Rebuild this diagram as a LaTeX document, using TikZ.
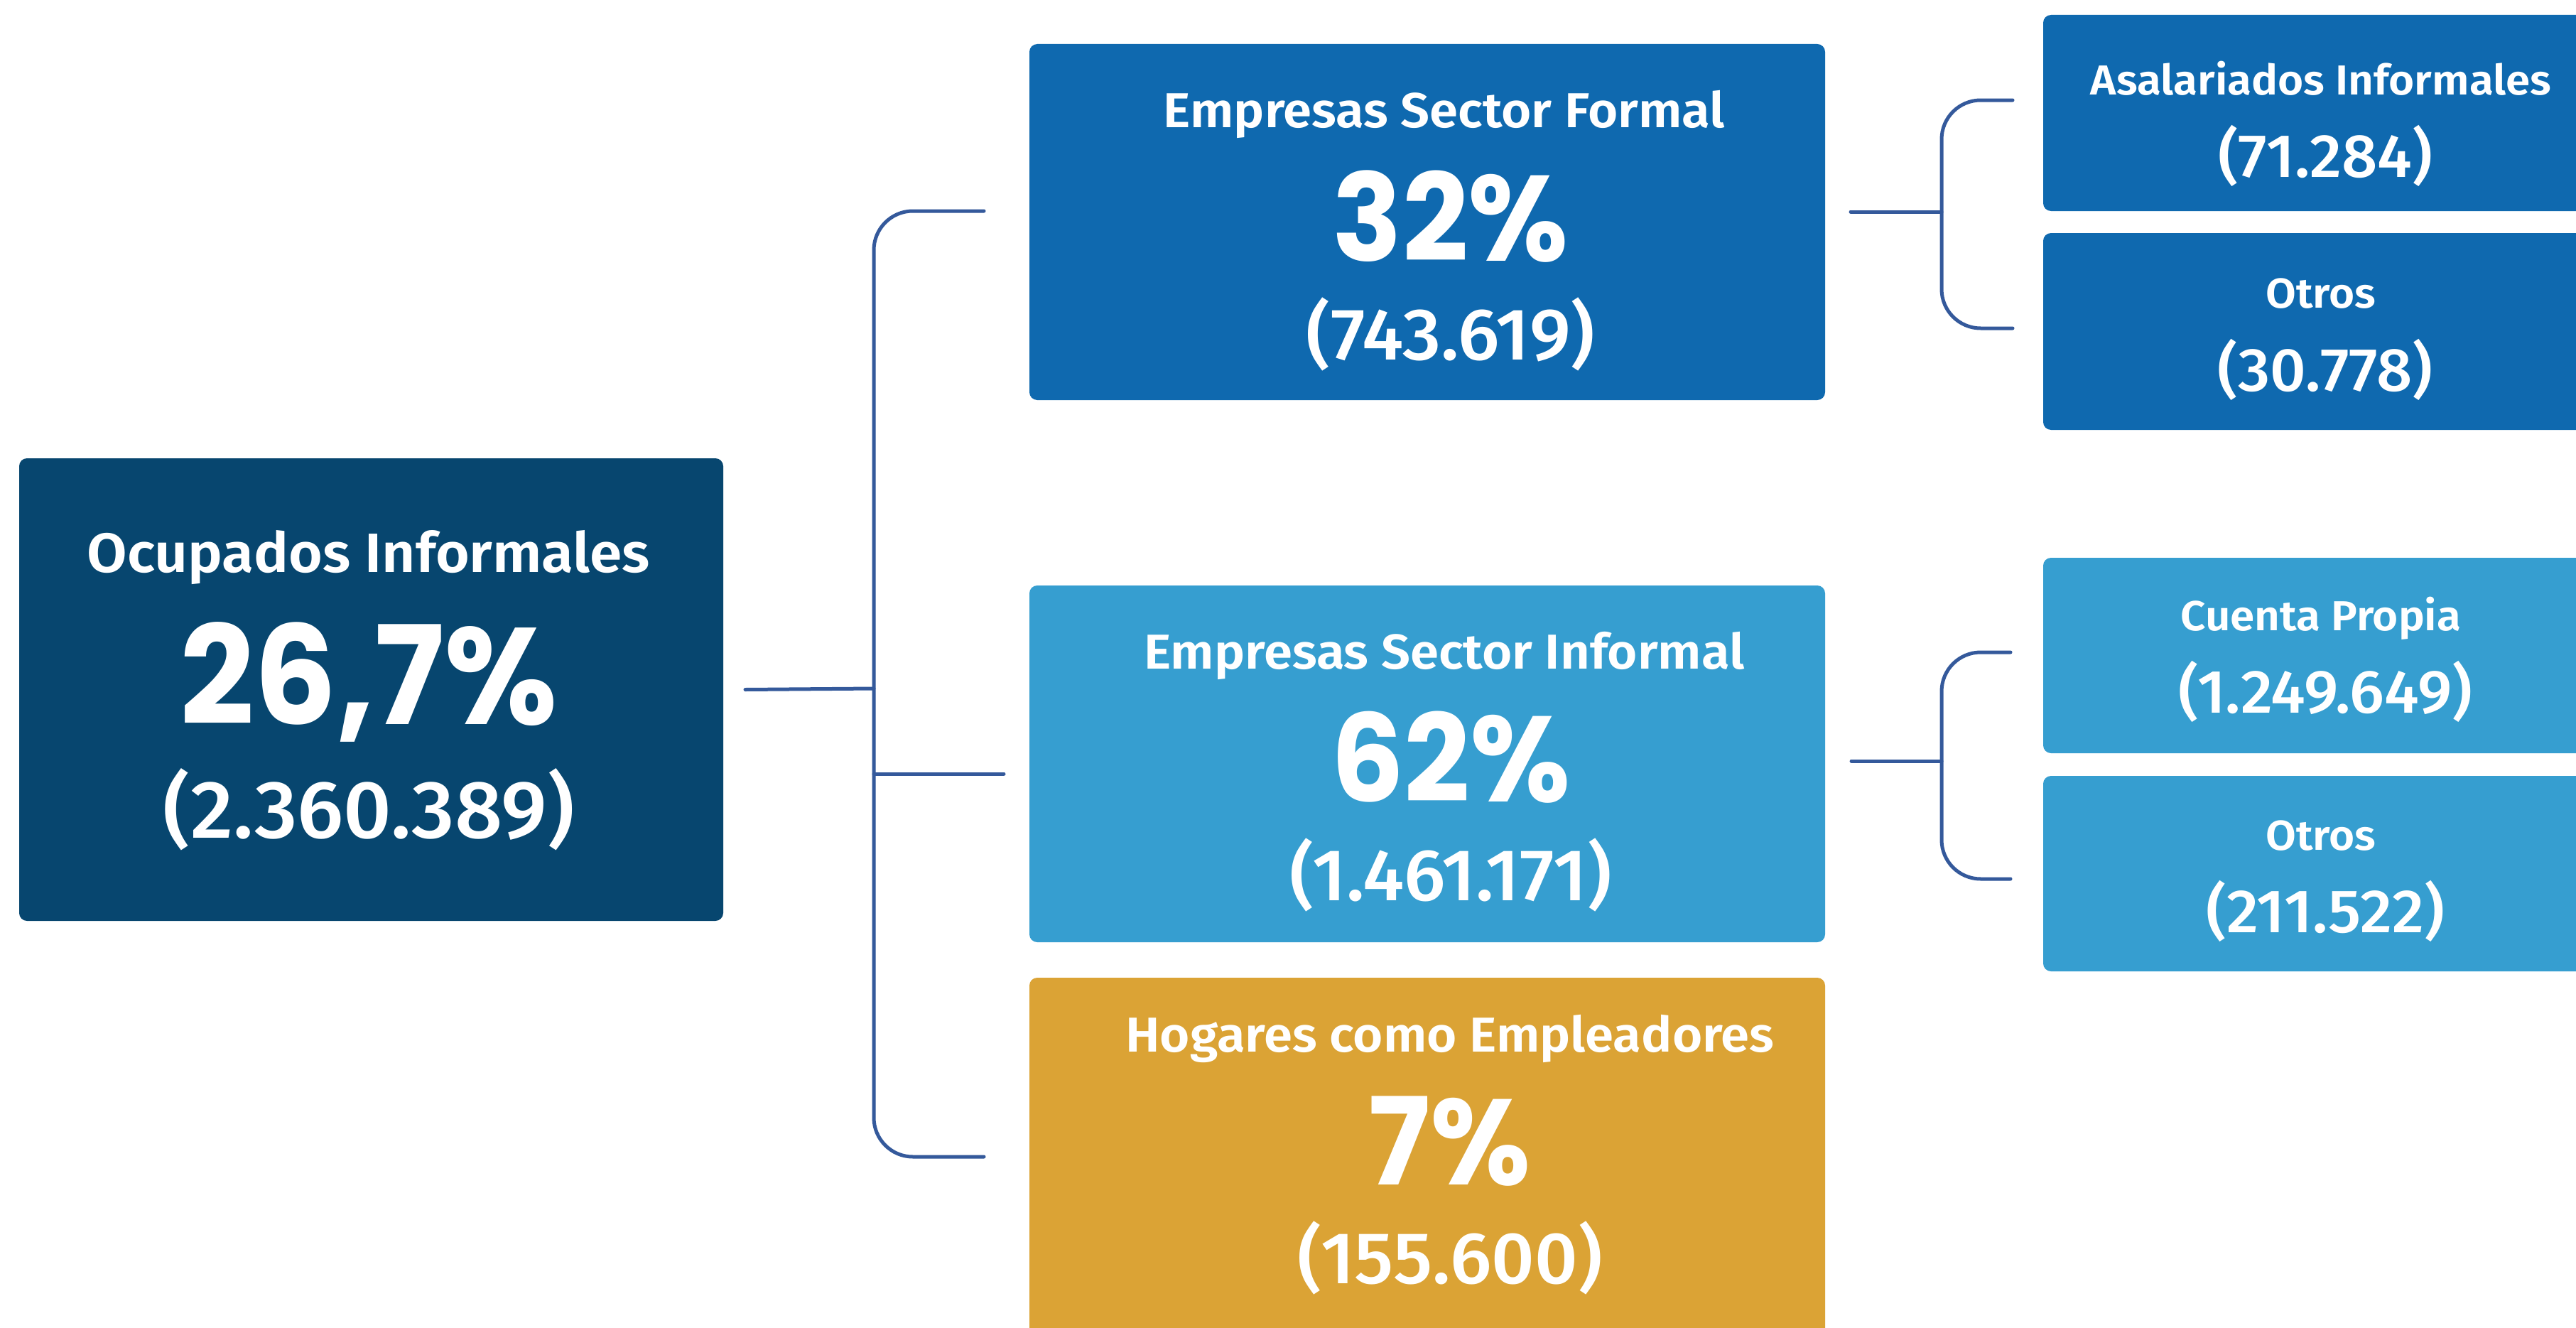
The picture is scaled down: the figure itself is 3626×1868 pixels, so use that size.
\documentclass[tikz,border=0pt]{standalone}
\usepackage{fontspec}
\setmainfont{Fira Sans}
\newfontfamily\labfont{Fira Sans}[UprightFont=* SemiBold, FakeStretch=1.05]
\newfontfamily\cntfont{Fira Sans}[UprightFont=* Medium, FakeStretch=1.03]
\newfontfamily\numfont{Poppins}[FakeStretch=0.95]
\definecolor{navy}{HTML}{07466F}
\definecolor{formalc}{HTML}{0F69AF}
\definecolor{informalc}{HTML}{369ED0}
\definecolor{goldc}{HTML}{DBA335}
\definecolor{linec}{HTML}{34599B}
\tikzset{
  boxs/.style={rectangle, rounded corners=11pt, inner sep=0pt, outer sep=0pt, anchor=north west},
  conn/.style={draw=linec, line width=5pt, line cap=round, rounded corners=55pt},
  txt/.style={anchor=base, text=white, inner sep=0pt},
  labA/.style={txt, font=\labfont\fontsize{78}{80}\selectfont},
  labB/.style={txt, font=\labfont\fontsize{69}{72}\selectfont},
  labC/.style={txt, font=\labfont\fontsize{59}{62}\selectfont},
  numA/.style={txt, font=\numfont\bfseries\fontsize{193}{200}\selectfont},
  numB/.style={txt, font=\numfont\bfseries\fontsize{171}{180}\selectfont},
  cntA/.style={txt, font=\cntfont\fontsize{115}{120}\selectfont},
  cntB/.style={txt, font=\cntfont\fontsize{103}{110}\selectfont},
  cntC/.style={txt, font=\cntfont\fontsize{86}{90}\selectfont},
}
\begin{document}
\begin{tikzpicture}[x=1pt,y=-1pt]
\useasboundingbox (0,0) rectangle (3626,1868);
\clip (0,0) rectangle (3626,1868);
\fill[white] (0,0) rectangle (3626,1868);
% boxes
\node[boxs, fill=navy, minimum width=991pt, minimum height=651pt] (main) at (27,645) {};
\node[boxs, fill=formalc, minimum width=1120pt, minimum height=501pt] (formal) at (1449,62) {};
\node[boxs, fill=informalc, minimum width=1120pt, minimum height=502pt] (informal) at (1449,824) {};
\node[boxs, fill=goldc, minimum width=1120pt, minimum height=560pt] (hogar) at (1449,1376) {};
\node[boxs, fill=formalc, minimum width=790pt, minimum height=276pt] (asal) at (2876,21) {};
\node[boxs, fill=formalc, minimum width=790pt, minimum height=277pt] (otrosA) at (2876,328) {};
\node[boxs, fill=informalc, minimum width=790pt, minimum height=275pt] (cuenta) at (2876,785) {};
\node[boxs, fill=informalc, minimum width=790pt, minimum height=275pt] (otrosB) at (2876,1092) {};
% texts
\node[labA] (mainL) at (519,805) {Ocupados Informales};
\node[numA] (mainN) at (519,1019) {26,7\%};
\node[cntA] (mainC) at (519,1179) {(2.360.389)};
\node[labB] (formalL) at (2033,179) {Empresas Sector Formal};
\node[numB] (formalN) at (2042,367) {32\%};
\node[cntB] (formalC) at (2042,506) {(743.619)};
\node[labB] (informalL) at (2033,941) {Empresas Sector Informal};
\node[numB] (informalN) at (2042,1128) {62\%};
\node[cntB] (informalC) at (2042,1267) {(1.461.171)};
\node[labB] (hogarL) at (2041,1480) {Hogares como Empleadores};
\node[numB] (hogarN) at (2041,1667) {7\%};
\node[cntB] (hogarC) at (2041,1806) {(155.600)};
\node[labC] (asalL) at (3267,133) {Asalariados Informales};
\node[cntC] (asalC) at (3273,249) {(71.284)};
\node[labC] (otrosAL) at (3267,433) {Otros};
\node[cntC] (otrosAC) at (3273,550) {(30.778)};
\node[labC] (cuentaL) at (3267,887) {Cuenta Propia};
\node[cntC] (cuentaC) at (3273,1003) {(1.249.649)};
\node[labC] (otrosBL) at (3267,1196) {Otros};
\node[cntC] (otrosBC) at (3273,1312) {(211.522)};
% connector coordinates
\coordinate (jL) at (1230,969);
\coordinate (jM) at (1230,1089);
\coordinate (tF) at (1385,297);
\coordinate (tI) at (1413,1089);
\coordinate (tH) at (1385,1628);
\coordinate (jR1) at (2733,298);
\coordinate (aR1) at (2833,141);
\coordinate (bR1) at (2833,462);
\coordinate (jR2) at (2733,1071);
\coordinate (aR2) at (2830,918);
\coordinate (bR2) at (2830,1237);
% left connectors
\draw[conn] ([xshift=31pt]main.east) -- (jL);
\draw[conn] (tF) -| (jL) |- (tH);
\draw[conn] (jM) -- (tI);
% right connectors
\draw[conn] ([xshift=36pt]formal.east |- jR1) -- (jR1);
\draw[conn] (aR1) -| (jR1) |- (bR1);
\draw[conn] ([xshift=37pt]informal.east |- jR2) -- (jR2);
\draw[conn] (aR2) -| (jR2) |- (bR2);
\end{tikzpicture}
\end{document}
